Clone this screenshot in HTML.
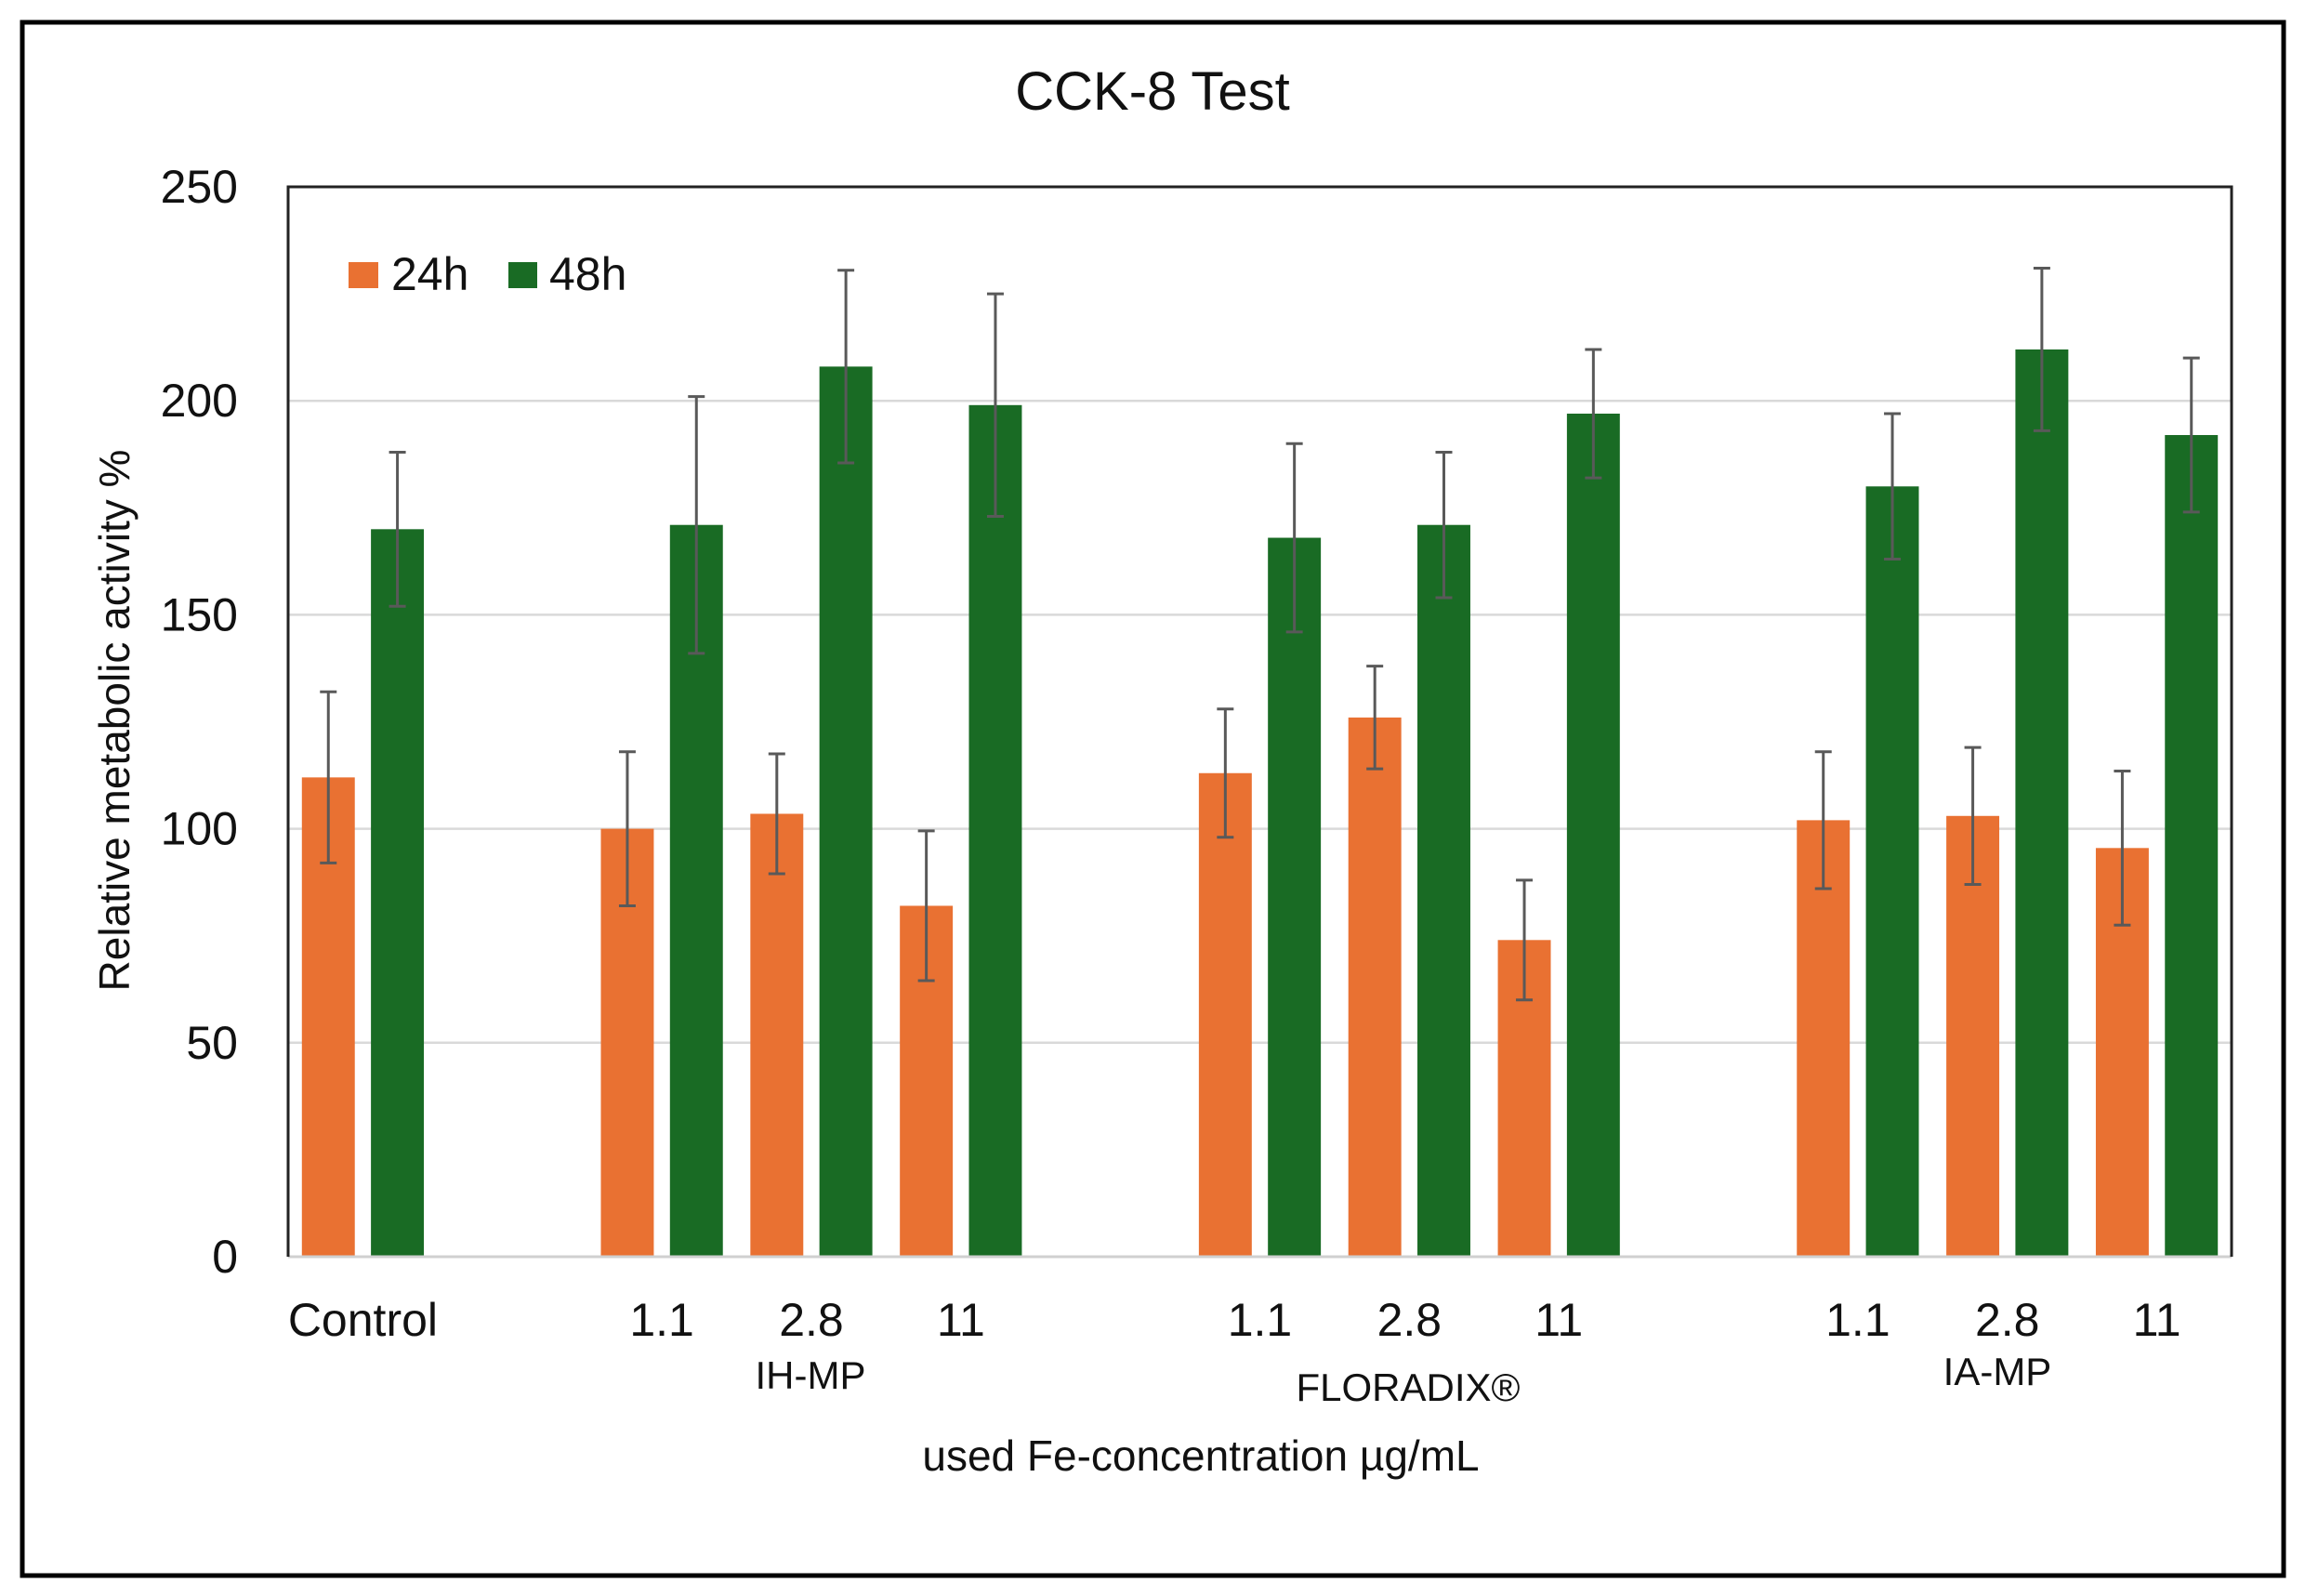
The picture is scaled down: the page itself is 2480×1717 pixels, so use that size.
<!DOCTYPE html>
<html><head><meta charset="utf-8"><style>
html,body{margin:0;padding:0;background:#fff;}
svg{display:block;font-family:"Liberation Sans",sans-serif;}
</style></head><body>
<svg id="chart" width="2480" height="1717" viewBox="0 0 2480 1717">
<rect x="24" y="24" width="2433" height="1671" fill="#fff" stroke="#000" stroke-width="5"/>
<text x="1240" y="118" font-size="58" text-anchor="middle" fill="#111">CCK-8 Test</text>
<g id="grid"></g>
<g id="bars"></g>
<g id="errs"></g>
<g id="axes"></g>
<g>
<rect x="375" y="282" width="32" height="28" fill="#E97132"/>
<text x="421" y="312" font-size="50" fill="#111">24h</text>
<rect x="547" y="282" width="31" height="28" fill="#196B24"/>
<text x="591" y="312" font-size="50" fill="#111">48h</text>
</g>
<text transform="translate(139,775) rotate(-90)" font-size="46" text-anchor="middle" fill="#111">Relative metabolic activity %</text>
<text x="1292" y="1582" font-size="46" text-anchor="middle" fill="#111">used Fe-concentration µg/mL</text>
<text x="872" y="1494" font-size="42" text-anchor="middle" fill="#111">IH-MP</text>
<text x="1515" y="1507" font-size="42" text-anchor="middle" fill="#111">FLORADIX®</text>
<text x="2149" y="1490" font-size="42" text-anchor="middle" fill="#111">IA-MP</text>
</svg>
<script>
const categories = ["Control","","1.1","2.8","11","","1.1","2.8","11","","1.1","2.8","11"];
const values24 = [112,null,100,103.5,82,null,113,126,74,null,102,103,95.5];
const err24 = [20,null,18,14,17.5,null,15,12,14,null,16,16,18];
const values48 = [170,null,171,208,199,null,168,171,197,null,180,212,192];
const err48 = [18,null,30,22.5,26,null,22,17,15,null,17,19,18];
const yTicks = [0,50,100,150,200,250];

const NS="http://www.w3.org/2000/svg";
const L=310,R=2401,T=201,B=1352,YMAX=250;
const slot=(R-L)/categories.length;
const y=v=>B-(v/YMAX)*(B-T);
const xc=i=>L+slot*(i+0.5);
const bw=slot*0.354, gap=slot*0.108;
function mk(tag,attrs,parent){const e=document.createElementNS(NS,tag);for(const k in attrs)e.setAttribute(k,attrs[k]);parent.appendChild(e);return e;}
const grid=document.getElementById('grid'),bars=document.getElementById('bars'),errs=document.getElementById('errs'),axes=document.getElementById('axes');
yTicks.forEach(t=>{
  if(t>0&&t<YMAX){const g=mk('line',{x1:L,x2:R,y1:y(t),y2:y(t),stroke:'#d9d9d9','stroke-width':2.5},grid);
  
  }
  const tx=mk('text',{x:256,y:y(t)+17,'font-size':50,'text-anchor':'end',fill:'#111'},axes);
  tx.textContent=t;
  
  
});
function drawSeries(vals,errv,color,dx,name){
  vals.forEach((v,i)=>{
    if(v==null)return;
    const x0=xc(i)+dx;
    const r=mk('rect',{x:x0,y:y(v),width:bw,height:B-y(v),fill:color},bars);
    
    
    const cx=x0+bw/2,e=errv[i];
    const g=mk('g',{stroke:'#595959','stroke-width':3},errs);
    
    
    mk('line',{x1:cx,x2:cx,y1:y(v+e),y2:y(v-e)},g);
    mk('line',{x1:cx-9,x2:cx+9,y1:y(v+e),y2:y(v+e)},g);
    mk('line',{x1:cx-9,x2:cx+9,y1:y(v-e),y2:y(v-e)},g);
  });
}
drawSeries(values24,err24,'#E97132',-gap/2-bw,'24h');
drawSeries(values48,err48,'#196B24',gap/2,'48h');
categories.forEach((c,i)=>{
  if(!c)return;
  const tx=mk('text',{x:xc(i),y:1437,'font-size':50,'text-anchor':'middle',fill:'#111'},axes);
  tx.textContent=c;
  
  
});
const ax=mk('line',{x1:L,x2:R,y1:B,y2:B,stroke:'#d0d0d0','stroke-width':3},axes);


const pb=mk('path',{d:`M${L},${B} L${L},${T} L${R},${T} L${R},${B}`,fill:'none',stroke:'#222','stroke-width':3},axes);


</script>
</body></html>
